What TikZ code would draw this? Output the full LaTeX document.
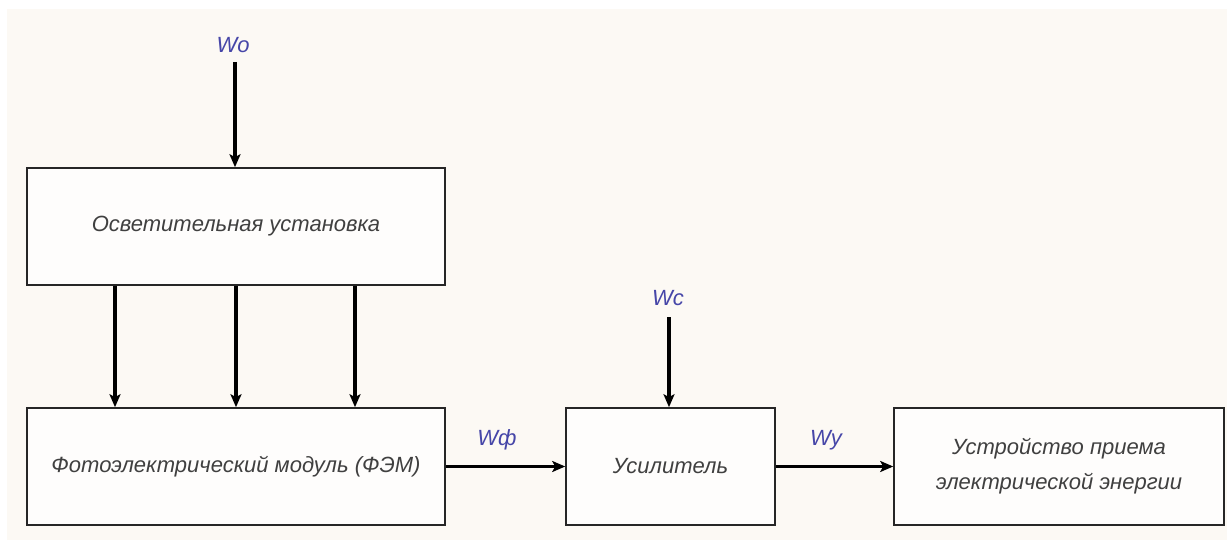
\documentclass[tikz,border=0pt]{standalone}
\usepackage{fontspec}
\setmainfont{Liberation Sans}
\usetikzlibrary{arrows.meta}
\definecolor{bgc}{HTML}{FCF9F4}
\definecolor{boxfill}{HTML}{FEFDFC}
\definecolor{txt}{HTML}{404040}
\definecolor{lbl}{HTML}{4646A8}
\tikzset{
  blk/.style={draw=black!85, line width=1.6pt, fill=boxfill, minimum height=117pt, inner sep=0pt,
    font=\itshape\fontsize{22}{35}\selectfont, text=txt, align=center},
  arr/.style={line width=3.2pt, -{Stealth[length=13pt,width=11pt,inset=3pt]}},
  lab/.style={font=\itshape\fontsize{22}{24}\selectfont, text=lbl, inner sep=0pt}
}
\begin{document}
\begin{tikzpicture}[x=1pt,y=-1pt]
\useasboundingbox (0,0) rectangle (1227,540);
\fill[white] (0,0) rectangle (1227,540);
\fill[bgc] (7,9) rectangle (1227,540);
\node[blk, minimum width=418pt] (b1) at (236,226.5) {Осветительная установка};
\node[blk, minimum width=418pt] (b2) at (236,466.5) {Фотоэлектрический модуль (ФЭМ)};
\node[blk, minimum width=209pt] (b3) at (670.5,466.5) {Усилитель};
\node[blk, minimum width=330pt] (b4) at (1059,466.5) {Устройство приема\\электрической энергии};
\node[lab] (wo) at (233,45) {Wo};
\node[lab] (wc) at (668,298) {Wc};
\node[lab] (wf) at (497,440) {Wф};
\node[lab] (wy) at (826,440) {Wy};
\coordinate (wostart) at (235,62);
\coordinate (wcstart) at (669,317);
\draw[arr] (wostart) -- (wostart |- b1.north);
\draw[arr] (wcstart) -- (wcstart |- b3.north);
\draw[arr] ([xshift=-121pt]b1.south) -- ([xshift=-121pt]b2.north);
\draw[arr] (b1.south) -- (b2.north);
\draw[arr] ([xshift=119pt]b1.south) -- ([xshift=119pt]b2.north);
\draw[arr] (b2.east) -- (b3.west);
\draw[arr] (b3.east) -- (b4.west);
\end{tikzpicture}
\end{document}
